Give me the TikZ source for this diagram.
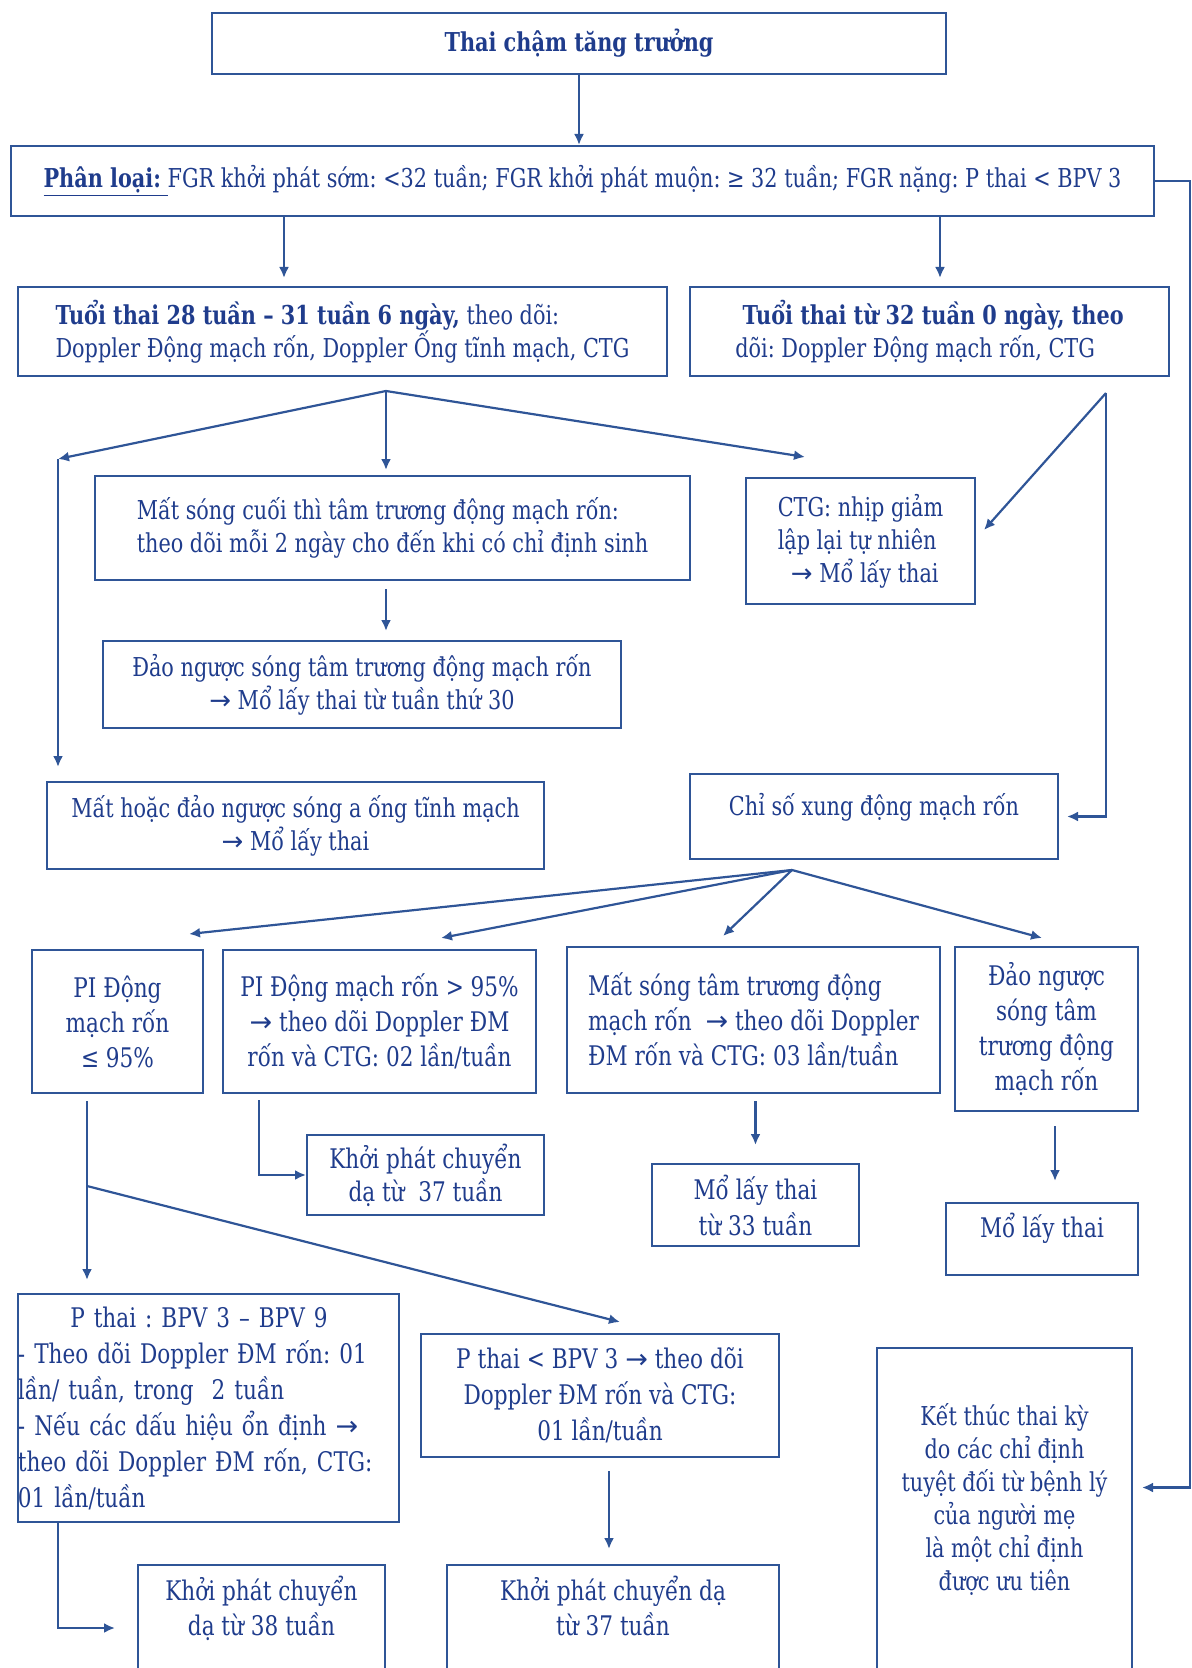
\documentclass[tikz,border=0pt]{standalone}
\usepackage{fontspec}
\setmainfont{DejaVu Serif}[FakeStretch=0.8]
\newfontfamily\arrowfont{DejaVu Sans}
\newcommand\ra{{\arrowfont →}}
\frenchspacing
\usetikzlibrary{arrows.meta}
\definecolor{lineblue}{HTML}{2F5597}
\definecolor{textblue}{HTML}{1F3C8C}
\tikzset{
  box/.style={draw=lineblue, line width=1pt, text=textblue, align=center, inner sep=0pt,
    font=\fontsize{13}{16.5}\selectfont},
  arr/.style={draw=lineblue, line width=1.1pt, -{Latex[length=5.5pt,width=5pt]}},
}

\begin{document}
\begin{tikzpicture}[x=0.5pt,y=-0.5pt]
\useasboundingbox (0,0) rectangle (1192,1668);
\clip (0,0) rectangle (1192,1668);

% Top
\node[box, minimum width=367pt, minimum height=30.5pt, font=\fontsize{13}{16.5}\selectfont\bfseries] (title) at (579,43.5) {Thai chậm tăng trưởng};
\node[box, minimum width=571.5pt, minimum height=35pt] (phanloai) at (582.5,181) {\underline{\textbf{Phân loại:}\ }FGR khởi phát sớm: <32 tuần; FGR khởi phát muộn: ≥ 32 tuần; FGR nặng: P thai < BPV 3};
\draw[arr] (title) -- (title |- phanloai.north);

% Gestational age
\node[box, align=left, minimum width=324.5pt, minimum height=44.5pt] (tuoi28) at (342.5,331.5) {\textbf{Tuổi thai 28 tuần – 31 tuần 6 ngày,} theo dõi:\\Doppler Động mạch rốn, Doppler Ống tĩnh mạch, CTG};
\node[box, align=left, minimum width=239.5pt, minimum height=44.5pt] (tuoi32) at (929.5,331.5) {\textbf{\ Tuổi thai từ 32 tuần 0 ngày, theo}\\dõi: Doppler Động mạch rốn, CTG};
\draw[arr, shorten >=4pt] (284,0 |- phanloai.south) -- (284,0 |- tuoi28.north);
\draw[arr, shorten >=4pt] (940,0 |- phanloai.south) -- (940,0 |- tuoi32.north);

% Early branch
\node[box, align=left, minimum width=297.5pt, minimum height=52pt] (matsong) at (392.5,528) {Mất sóng cuối thì tâm trương động mạch rốn:\\theo dõi mỗi 2 ngày cho đến khi có chỉ định sinh};
\node[box, minimum width=259pt, minimum height=43.5pt] (daonguoc1) at (362,684.5) {Đảo ngược sóng tâm trương động mạch rốn\\\ra{} Mổ lấy thai từ tuần thứ 30};
\node[box, minimum width=248.5pt, minimum height=43.5pt] (onghtm) at (295.5,825.5) {Mất hoặc đảo ngược sóng a ống tĩnh mạch\\\ra{} Mổ lấy thai};
\node[box, align=left, minimum width=114.5pt, minimum height=63pt] (ctg) at (860.5,541) {CTG: nhịp giảm\\lập lại tự nhiên\\\ \ \ra{} Mổ lấy thai};
\coordinate (f1) at (386,391);
\coordinate (c1) at (58,459);
\coordinate (c2) at (805,457);
\draw[arr] (f1) -- (c1);
\draw[arr, shorten >=7pt] (c1) -- (c1 |- onghtm.north);
\draw[arr, shorten >=2.5pt] (f1) -- (f1 |- matsong.north);
\draw[arr] (f1) -- (c2);
\draw[arr, shorten <=4pt, shorten >=4.5pt] (matsong.south -| f1) -- (daonguoc1.north -| f1);

% Late branch
\node[box, minimum width=184pt, minimum height=42.5pt, text depth=12pt] (chiso) at (874,816.5) {Chỉ số xung động mạch rốn};
\coordinate (f2) at (1106,393);
\coordinate (c3) at (984,530);
\draw[arr] (f2) -- (c3);
\draw[arr] (f2) |- ([xshift=4pt]chiso.east);

% Pulsatility index
\node[box, minimum width=85.5pt, minimum height=71.5pt, font=\fontsize{13.5}{17.5}\selectfont] (pile) at (117.5,1021.5) {PI Động\\mạch rốn\\≤ 95\%};
\node[box, minimum width=156.5pt, minimum height=71.5pt, font=\fontsize{13.5}{17.5}\selectfont] (pigt) at (379.5,1021.5) {PI Động mạch rốn > 95\%\\\ra{} theo dõi Doppler ĐM\\rốn và CTG: 02 lần/tuần};
\node[box, align=left, minimum width=186.5pt, minimum height=73pt, font=\fontsize{13.5}{17.5}\selectfont] (matsong2) at (753.5,1020) {Mất sóng tâm trương động\\mạch rốn \ \ra{} theo dõi Doppler\\ĐM rốn và CTG: 03 lần/tuần};
\node[box, minimum width=91.5pt, minimum height=82pt, font=\fontsize{13.5}{17.5}\selectfont] (daonguoc2) at (1046.5,1029) {Đảo ngược\\sóng tâm\\trương động\\mạch rốn};
\coordinate (f3) at (792,870);
\foreach \p in {(189,934),(441,938),(723,936),(1042,938)}
  \draw[arr] (f3) -- \p;

% Follow-up
\node[box, minimum width=118.5pt, minimum height=40pt, font=\fontsize{13.5}{16.5}\selectfont] (kp37a) at (425.5,1175) {Khởi phát chuyển\\dạ từ \ 37 tuần};
\node[box, minimum width=103.5pt, minimum height=41pt, font=\fontsize{13.5}{18}\selectfont] (mo33) at (755.5,1205) {Mổ lấy thai\\từ 33 tuần};
\node[box, minimum width=96pt, minimum height=36pt, text depth=14pt, font=\fontsize{13.5}{18}\selectfont] (mo) at (1042,1239) {Mổ lấy thai};
\draw[arr] (259,1100) |- (kp37a.west);
\draw[arr, shorten <=3.5pt, shorten >=9pt] (matsong2.south -| mo33.north) -- (mo33.north);
\draw[arr, shorten <=7pt, shorten >=10.5pt] (1055,0 |- daonguoc2.south) -- (1055,0 |- mo.north);

% Severity
\node[box, align=left, text width=190.5pt, minimum height=114pt, font=\fontsize{13.5}{18}\selectfont] (bpv39) at (208.5,1408) {\makebox[181pt]{P thai : BPV 3 – BPV 9}\\\makebox[181pt][s]{- Theo dõi Doppler ĐM rốn: 01}\\lần/ tuần, trong \ 2 tuần\\\makebox[181pt][s]{- Nếu các dấu hiệu ổn định \ra}\\\makebox[181pt][s]{theo dõi Doppler ĐM rốn, CTG:}\\01 lần/tuần};
\node[box, minimum width=179pt, minimum height=61.5pt, font=\fontsize{13.5}{18}\selectfont] (bpv3) at (600,1395.5) {P thai < BPV 3 \ra{} theo dõi\\Doppler ĐM rốn và CTG:\\01 lần/tuần};
\coordinate (b1) at (87,1186);
\draw[arr, shorten <=3.5pt, shorten >=6.5pt] (87,0 |- pile.south) -- (87,0 |- bpv39.north);
\draw[arr] (b1) -- (620,1322);

% Delivery
\node[box, minimum width=123.5pt, minimum height=85pt, text depth=44pt, font=\fontsize{13.5}{17.5}\selectfont] (kp38) at (261.5,1650) {Khởi phát chuyển\\dạ từ 38 tuần};
\node[box, minimum width=166pt, minimum height=85pt, text depth=44pt, font=\fontsize{13.5}{17.5}\selectfont] (kp37b) at (613,1650) {Khởi phát chuyển dạ\\từ 37 tuần};
\node[box, minimum width=127.5pt, minimum height=193.5pt, text depth=45pt] (ketthuc) at (1004.5,1541.5) {Kết thúc thai kỳ\\do các chỉ định\\tuyệt đối từ bệnh lý\\của người mẹ\\là một chỉ định\\được ưu tiên};
\draw[arr] (58,0 |- bpv39.south) |- (115,1628);
\draw[arr, shorten <=6.5pt, shorten >=7.5pt] (609,0 |- bpv3.south) -- (609,0 |- kp37b.north);
\draw[arr] (phanloai.east) -- ++(35,0) |- ([xshift=4.5pt,yshift=27pt]ketthuc.east);
\end{tikzpicture}
\end{document}
